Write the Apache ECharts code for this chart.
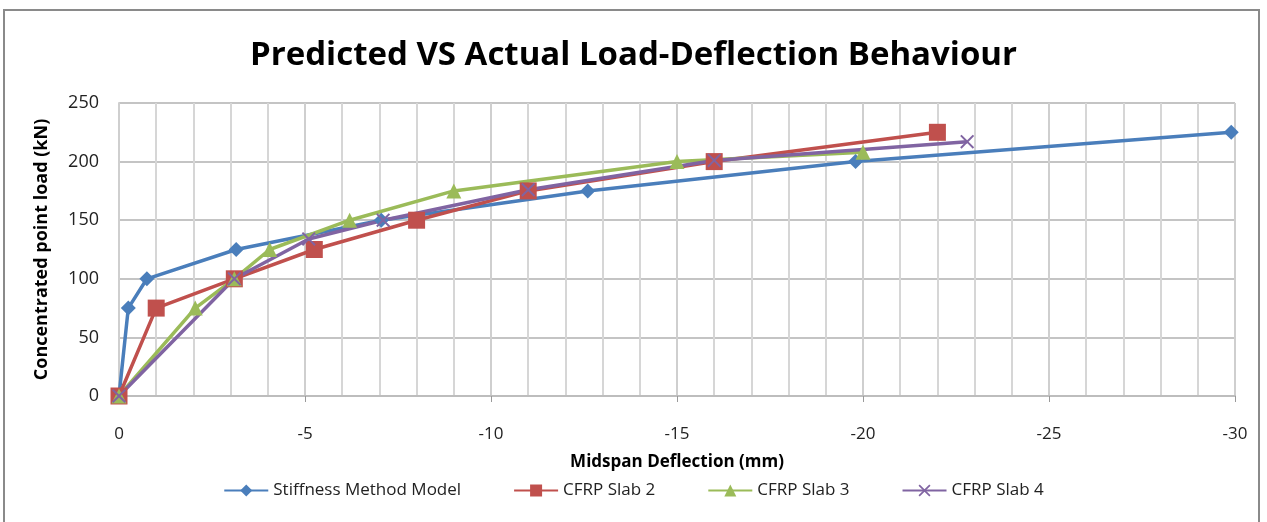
<!DOCTYPE html>
<html>
<head>
<meta charset="utf-8">
<script src="https://cdn.jsdelivr.net/npm/echarts@6/dist/echarts.min.js"></script>
<style>
  html, body { margin: 0; padding: 0; background: #fff; }
  #frame { position: absolute; left: 3px; top: 9px; width: 1257px; height: 530px;
           border: 2px solid #8a8a8a; box-sizing: border-box; }
  #chart { position: absolute; left: 0; top: 0; width: 1267px; height: 522px; }
</style>
</head>
<body>
<div id="frame"></div>
<div id="chart"></div>
<script>
  // 하중-처짐 곡선
  var stiffX  = [0, -0.25, -0.75, -3.15, -7.05, -12.6, -19.8, -29.9];
  var stiffY  = [0, 75, 100, 125, 150, 175, 200, 225];
  var slab2X  = [0, -1.0, -3.1, -5.25, -8.0, -11.0, -16.0, -22.0];
  var slab2Y  = [0, 75, 100, 125, 150, 175, 200, 225];
  var slab3X  = [0, -2.05, -3.1, -4.05, -6.2, -9.0, -15.0, -20.0];
  var slab3Y  = [0, 75, 100, 125, 150, 175, 200, 208];
  var slab4X  = [0, -3.1, -5.1, -7.1, -11.0, -16.0, -22.8];
  var slab4Y  = [0, 100, 134, 150, 176, 201, 217];
  var names   = ["Stiffness Method Model", "CFRP Slab 2", "CFRP Slab 3", "CFRP Slab 4"];

  var FONT = "'Liberation Sans Narrow', 'Open Sans', sans-serif";
  var CROSS = "path://M0,1L1,0L5,4L9,0L10,1L6,5L10,9L9,10L5,6L1,10L0,9L4,5Z";

  function pairs(xs, ys) {
    return xs.map(function (x, i) { return [x, ys[i]]; });
  }
  function line(name, xs, ys, color, symbol, size) {
    return {
      name: name, type: "line", data: pairs(xs, ys),
      symbol: symbol, symbolSize: size, showSymbol: true,
      lineStyle: { color: color, width: 3.5 },
      itemStyle: { color: color },
      emphasis: { disabled: true }
    };
  }

  var chart = echarts.init(document.getElementById("chart"));
  chart.setOption({
    animation: false,
    title: {
      text: "Predicted VS Actual Load-Deflection Behaviour",
      left: "center", top: 34,
      textStyle: { fontFamily: FONT, fontSize: 33, fontWeight: "bold", color: "#000" }
    },
    grid: { left: 119, right: 32, top: 103, bottom: 126 },
    legend: {
      bottom: 18, left: "center", itemGap: 52, itemWidth: 44, itemHeight: 15,
      textStyle: { fontFamily: FONT, fontSize: 17, color: "#222" },
      data: names
    },
    xAxis: {
      type: "value", min: -30, max: 0, interval: 5, inverse: true,
      name: "Midspan Deflection (mm)", nameLocation: "middle", nameGap: 58,
      nameTextStyle: { fontFamily: FONT, fontSize: 17, fontWeight: "bold", color: "#000" },
      axisLine: { show: true, onZero: false, lineStyle: { color: "#bdbdbd", width: 2 } },
      axisTick: { show: true, length: 6, lineStyle: { color: "#9a9a9a" } },
      axisLabel: { margin: 30, fontFamily: FONT, fontSize: 17, color: "#222" },
      splitLine: { show: true, lineStyle: { color: "#cfcfcf", width: 2 } },
      minorTick: { show: false, splitNumber: 5 },
      minorSplitLine: { show: true, lineStyle: { color: "#d6d6d6", width: 2 } }
    },
    yAxis: {
      type: "value", min: 0, max: 250, interval: 50,
      name: "Concentrated point load (kN)", nameLocation: "middle", nameGap: 68,
      nameTextStyle: { fontFamily: FONT, fontSize: 18, fontWeight: "bold", color: "#000" },
      axisLine: { show: true, lineStyle: { color: "#cfcfcf", width: 2 } },
      axisTick: { show: false },
      axisLabel: { margin: 20, fontFamily: FONT, fontSize: 18, color: "#222" },
      splitLine: { show: true, lineStyle: { color: "#c4c4c4", width: 2 } }
    },
    series: [
      line(names[0], stiffX, stiffY, "#4a7ebb", "diamond", 15),
      line(names[1], slab2X, slab2Y, "#c0504d", "rect", 17),
      line(names[2], slab3X, slab3Y, "#9bbb59", "triangle", 15),
      line(names[3], slab4X, slab4Y, "#8064a2", CROSS, 14)
    ]
  });
</script>
</body>
</html>
